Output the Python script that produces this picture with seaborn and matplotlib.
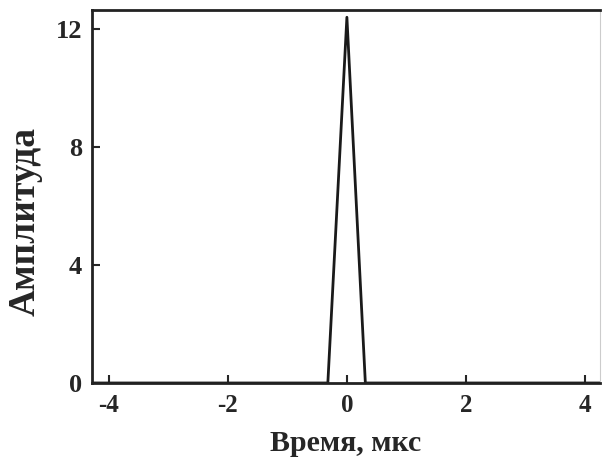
import pandas as pd
import matplotlib
matplotlib.use('Agg')
import matplotlib.pyplot as plt
import seaborn as sns

# Pulse shape
time_us = [-4.3, -0.32, 0.0, 0.31, 4.3]
amplitude = [0.0, 0.0, 12.4, 0.0, 0.0]
x_ticks = [-4, -2, 0, 2, 4]
y_ticks = [0, 4, 8, 12]

sns.set_style('ticks')
plt.rcParams['font.family'] = ['Liberation Serif', 'DejaVu Serif']
plt.rcParams['font.weight'] = 'bold'
plt.rcParams['axes.unicode_minus'] = False

df = pd.DataFrame({'Время': time_us, 'Амплитуда': amplitude})

fig = plt.figure(figsize=(6.03, 4.63), dpi=100)
ax = fig.add_axes([0.1526, 0.1728, 0.8424, 0.8052])
sns.lineplot(data=df, x='Время', y='Амплитуда', color='#1a1a1a', linewidth=2.0, ax=ax)

ax.set_xlim(-4.28, 4.25)
ax.set_ylim(0, 12.64)
ax.set_xticks(x_ticks)
ax.set_yticks(y_ticks)
ax.tick_params(direction='in', length=6, width=1.5)
ax.tick_params(axis='x', labelsize=18, pad=8)
ax.tick_params(axis='y', labelsize=19, pad=7)
for lab in ax.get_xticklabels() + ax.get_yticklabels():
    lab.set_fontweight('bold')
for sp in ax.spines.values():
    sp.set_linewidth(2.0)
    sp.set_color('#222222')
ax.spines['right'].set_linewidth(0.8)
ax.spines['right'].set_color('#cccccc')

ax.set_xlabel('Время, мкс', fontsize=21.5, fontweight='bold', labelpad=9)
ax.set_ylabel('Амплитуда', fontsize=27, fontweight='bold')
ax.yaxis.set_label_coords(-0.098, 0.434)

fig.savefig('out.png', dpi=100)
